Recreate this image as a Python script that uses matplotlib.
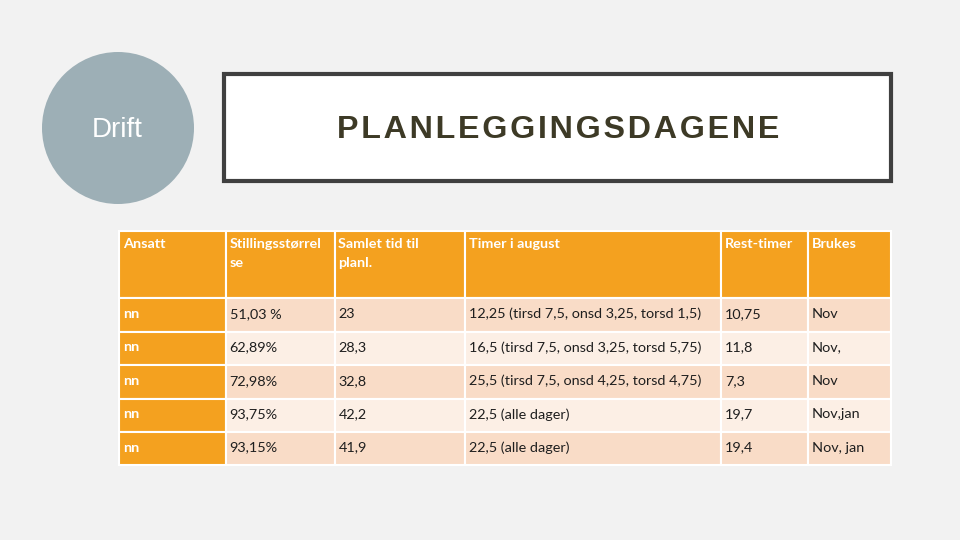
import matplotlib.pyplot as plt
from matplotlib.patches import Rectangle, Circle

# table contents
header = ["Ansatt", "Stillingsstørrel\nse", "Samlet tid til\nplanl.", "Timer i august", "Rest-timer", "Brukes"]
ansatt = ["nn", "nn", "nn", "nn", "nn"]
stilling = ["51,03 %", "62,89%", "72,98%", "93,75%", "93,15%"]
samlet = ["23", "28,3", "32,8", "42,2", "41,9"]
timer = ["12,25 (tirsd 7,5, onsd 3,25, torsd 1,5)",
         "16,5 (tirsd 7,5, onsd 3,25, torsd 5,75)",
         "25,5 (tirsd 7,5, onsd 4,25, torsd 4,75)",
         "22,5 (alle dager)",
         "22,5 (alle dager)"]
rest = ["10,75", "11,8", "7,3", "19,7", "19,4"]
brukes = ["Nov", "Nov,", "Nov", "Nov,jan", "Nov, jan"]

columns = [ansatt, stilling, samlet, timer, rest, brukes]

# layout (pixels)
col_edges = [119, 225.5, 334.5, 465, 721, 808, 891]
row_edges = [231, 298, 331.5, 365, 398.5, 432, 465]

orange = '#f4a11f'
dark_row = '#f9dcc7'
light_row = '#fcefe5'
bg = '#f2f2f2'

fig = plt.figure(figsize=(9.6, 5.4), dpi=100, facecolor=bg)
ax = fig.add_axes([0, 0, 1, 1])
ax.set_xlim(0, 960)
ax.set_ylim(540, 0)
ax.axis('off')

# circle with "Drift"
ax.add_patch(Circle((118, 128), 76, facecolor='#9dafb6', edgecolor='none'))
ax.text(117, 130, "Drift", color='white', fontsize=20, family='Liberation Sans',
        ha='center', va='center')

# title box
ax.add_patch(Rectangle((224, 74), 667, 107, facecolor='white', edgecolor='#404040', linewidth=3))
ax.text(558, 130, "\u200a".join("PLANLEGGINGSDAGENE"),
        color='#3d3a26', fontsize=23.2, fontweight='bold', family='Liberation Sans',
        ha='center', va='center')

body_font = ['Lato', 'DejaVu Sans']
fs = 10.4

# header row
for j, label in enumerate(header):
    x0, x1 = col_edges[j], col_edges[j + 1]
    y0, y1 = row_edges[0], row_edges[1]
    ax.add_patch(Rectangle((x0, y0), x1 - x0, y1 - y0, facecolor=orange,
                           edgecolor='white', linewidth=1.5))
    ax.text(x0 + 4, y0 + 6.5, label, color='white', fontsize=fs, fontweight='bold',
            family=body_font, ha='left', va='top', linespacing=1.75)

# body rows
for i in range(len(ansatt)):
    y0, y1 = row_edges[i + 1], row_edges[i + 2]
    fill = dark_row if i % 2 == 0 else light_row
    for j, col in enumerate(columns):
        x0, x1 = col_edges[j], col_edges[j + 1]
        fc = orange if j == 0 else fill
        ax.add_patch(Rectangle((x0, y0), x1 - x0, y1 - y0, facecolor=fc,
                               edgecolor='white', linewidth=1.5))
        ax.text(x0 + 4, (y0 + y1) / 2 - 1, col[i],
                color='white' if j == 0 else '#1e1e1e',
                fontsize=fs, fontweight='bold' if j == 0 else 'normal',
                family=body_font, ha='left', va='center')

fig.savefig('out.png', dpi=100, facecolor=bg)
